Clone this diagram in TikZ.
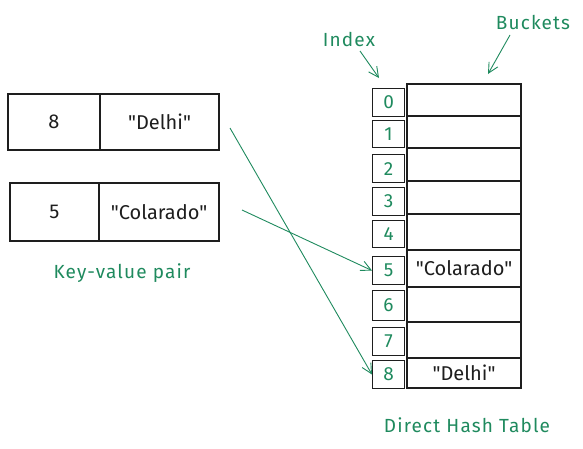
\documentclass[tikz,border=0pt]{standalone}
\usepackage{fontspec}
\setmainfont{Fira Sans}[Ligatures=TeXOff]
\usetikzlibrary{arrows.meta}
\definecolor{grn}{HTML}{1F8A5E}
\definecolor{ink}{HTML}{1E1E1E}
\newcommand{\qq}[1]{\symbol{34}#1\symbol{34}}
\begin{document}
\begin{tikzpicture}[x=1pt,y=-1pt,
  cell/.style={draw=ink,line width=1.1pt,minimum width=#1,minimum height=0pt,inner sep=0pt,outer sep=0pt,anchor=north west,font=\fontsize{20}{20}\selectfont,text=ink},
  idx/.style={draw=ink,line width=1.1pt,minimum width=32pt,inner sep=0pt,anchor=north west,font=\fontsize{19}{19}\selectfont,text=grn},
  lbl/.style={text=grn,font=\fontsize{19}{19}\selectfont\addfontfeatures{LetterSpace=6}},
  garrow/.style={draw=grn,line width=0.9pt,-{Straight Barb[length=10pt,width=10pt]}}]
\useasboundingbox (0,0) rectangle (583,448);
% key-value pairs
\node[cell=92pt,minimum height=56pt] (k8) at (8,94) {8};
\node[cell=119pt,minimum height=56pt] (v8) at (100,94) {\qq{Delhi}};
\node[cell=89pt,minimum height=58pt] (k5) at (10,183) {5};
\node[cell=120pt,minimum height=58pt] (v5) at (99,183) {\qq{Colarado}};
\node[lbl] (kvl) at (122,273) {Key-value pair};
% index boxes
\node[idx,minimum height=28pt] (i0) at (372,88) {0};
\node[idx,minimum height=27pt] (i1) at (372,120) {1};
\node[idx,minimum height=28pt] (i2) at (372,154) {2};
\node[idx,minimum height=28pt] (i3) at (372,187) {3};
\node[idx,minimum height=27pt] (i4) at (372,220) {4};
\node[idx,minimum height=28pt] (i5) at (372,256) {5};
\node[idx,minimum height=30pt] (i6) at (372,290) {6};
\node[idx,minimum height=28pt] (i7) at (372,327) {7};
\node[idx,minimum height=28pt] (i8) at (372,360) {8};
% buckets
\node[cell=114pt,minimum height=32pt] (b0) at (407,84) {};
\node[cell=114pt,minimum height=32pt] (b1) at (407,116) {};
\node[cell=114pt,minimum height=33pt] (b2) at (407,148) {};
\node[cell=114pt,minimum height=33pt] (b3) at (407,181) {};
\node[cell=114pt,minimum height=36pt] (b4) at (407,214) {};
\node[cell=114pt,minimum height=37pt] (b5) at (407,250) {\qq{Colarado}};
\node[cell=114pt,minimum height=35pt] (b6) at (407,287) {};
\node[cell=114pt,minimum height=36pt] (b7) at (407,322) {};
\node[cell=114pt,minimum height=30pt] (b8) at (407,358) {\qq{Delhi}};
% labels
\node[lbl] (il) at (349,39) {Index};
\node[lbl] (bl) at (533,22) {Buckets};
\node[lbl] (dl) at (467,425) {Direct Hash Table};
\coordinate (ia) at (379,78);
\coordinate (ba) at (488,74);
\coordinate (d8) at (230,128);
\coordinate (d5) at (242,210);
\draw[garrow] (360,51) -- (ia);
\draw[garrow] (510,35) -- (ba);
\draw[garrow] (d8) -- (i8.west);
\draw[garrow] (d5) -- (i5.west);
\end{tikzpicture}
\end{document}
